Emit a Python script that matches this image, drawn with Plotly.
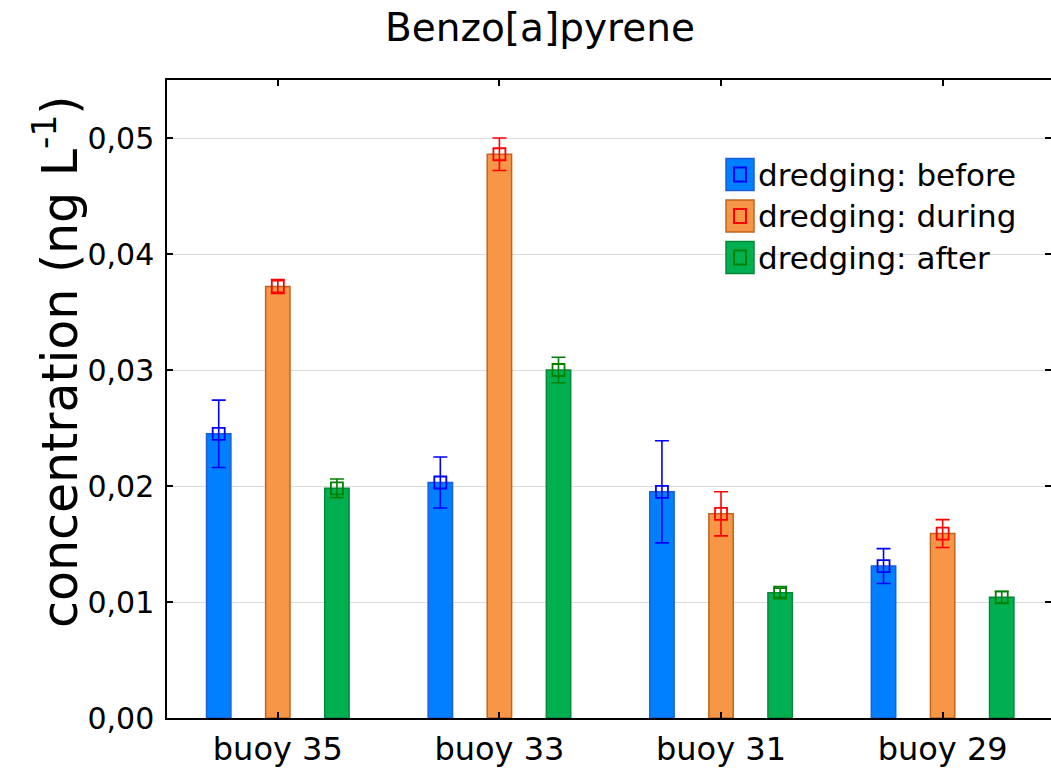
import plotly.graph_objects as go

# Benzo[a]pyrene concentration at each buoy, before / during / after dredging
sites = ["buoy 35", "buoy 33", "buoy 31", "buoy 29"]
before = [0.0245, 0.0203, 0.0195, 0.0131]
before_err = [0.0029, 0.0022, 0.0044, 0.0015]
during = [0.0372, 0.0486, 0.0176, 0.0159]
during_err = [0.0006, 0.0014, 0.0019, 0.0012]
after = [0.0198, 0.0300, 0.0108, 0.0104]
after_err = [0.0008, 0.0011, 0.0004, 0.0005]

series = [
    ("dredging: before", before, before_err, "#0080FF", "#1A5FD6", "#0000FF"),
    ("dredging: during", during, during_err, "#F79646", "#C0651F", "#FF0000"),
    ("dredging: after", after, after_err, "#00B050", "#06883A", "#008000"),
]

FONT = "DejaVu Sans, Verdana, sans-serif"
W, H = 1051, 770
ML, MR, MT, MB = 167, 0, 80, 52

fig = go.Figure()

for name, vals, errs, fill, edge, mark in series:
    fig.add_trace(go.Bar(
        x=sites, y=vals, name=name, width=0.11,
        marker=dict(color=fill, line=dict(color=edge, width=1.5)),
        offsetgroup=name, alignmentgroup="g", showlegend=False,
    ))

for name, vals, errs, fill, edge, mark in series:
    fig.add_trace(go.Scatter(
        x=sites, y=vals, name=name, mode="markers",
        marker=dict(symbol="square-open", size=12, color=mark,
                    line=dict(width=1.8, color=mark)),
        error_y=dict(type="data", array=errs, visible=True,
                     color=mark, thickness=1.6, width=7),
        offsetgroup=name, alignmentgroup="g", showlegend=False,
    ))

pw, ph = W - ML - MR, H - MT - MB


def px_to_paper(xp, yp):
    return (xp - ML) / pw, (H - MB - yp) / ph


# legend drawn as boxes + labels in the upper right of the plot area
shapes, annotations = [], []
for i, (name, vals, errs, fill, edge, mark) in enumerate(series):
    cy = 174.5 + i * 41.5
    x0, y0 = px_to_paper(726, cy + 16)
    x1, y1 = px_to_paper(754, cy - 16)
    shapes.append(dict(type="rect", xref="paper", yref="paper",
                       x0=x0, x1=x1, y0=y0, y1=y1,
                       fillcolor=fill, line=dict(color=edge, width=1.5)))
    x0, y0 = px_to_paper(734, cy + 7)
    x1, y1 = px_to_paper(746, cy - 7)
    shapes.append(dict(type="rect", xref="paper", yref="paper",
                       x0=x0, x1=x1, y0=y0, y1=y1,
                       fillcolor="rgba(0,0,0,0)", line=dict(color=mark, width=2)))
    tx, ty = px_to_paper(756, cy)
    annotations.append(dict(xref="paper", yref="paper", x=tx, y=ty,
                            xanchor="left", yanchor="middle", showarrow=False,
                            text=name, font=dict(size=31, color="black", family=FONT)))

# vertical axis title
lx, ly = px_to_paper(56, 362)
annotations.append(dict(xref="paper", yref="paper", x=lx, y=ly,
                        xanchor="center", yanchor="middle", showarrow=False,
                        textangle=-90, text="concentration (ng L<sup>-1</sup>)",
                        font=dict(size=49, color="black", family=FONT)))

fig.update_layout(
    width=W, height=H,
    margin=dict(l=ML, r=MR, t=MT, b=MB, pad=0, autoexpand=False),
    paper_bgcolor="white", plot_bgcolor="white",
    font=dict(family=FONT, color="black", size=30),
    separators=",.",
    barmode="group", bargap=0.2,
    scattermode="group", scattergap=0.2,
    showlegend=False,
    title=dict(text="Benzo[a]pyrene", font=dict(size=39, family=FONT, color="black"),
               x=540 / W, xref="container", xanchor="center",
               y=1 - 27 / H, yref="container", yanchor="middle"),
    shapes=shapes, annotations=annotations,
)

fig.update_xaxes(
    range=[-0.5, 3.489], showgrid=False, zeroline=False, automargin=False,
    showline=True, linecolor="black", linewidth=1.5, mirror="ticks",
    ticks="inside", ticklen=6, tickwidth=1.5, tickcolor="black",
    tickfont=dict(size=32, family=FONT), ticklabelstandoff=2,
)
fig.update_yaxes(
    range=[0, 0.055], tick0=0, dtick=0.01, tickformat=".2f", automargin=False,
    showgrid=True, gridcolor="#DCDCDC", gridwidth=1, zeroline=False,
    showline=True, linecolor="black", linewidth=1.5, mirror="ticks",
    ticks="inside", ticklen=6, tickwidth=1.5, tickcolor="black",
    tickfont=dict(size=30, family=FONT), ticklabelstandoff=5,
)

fig.write_html("out.html")
